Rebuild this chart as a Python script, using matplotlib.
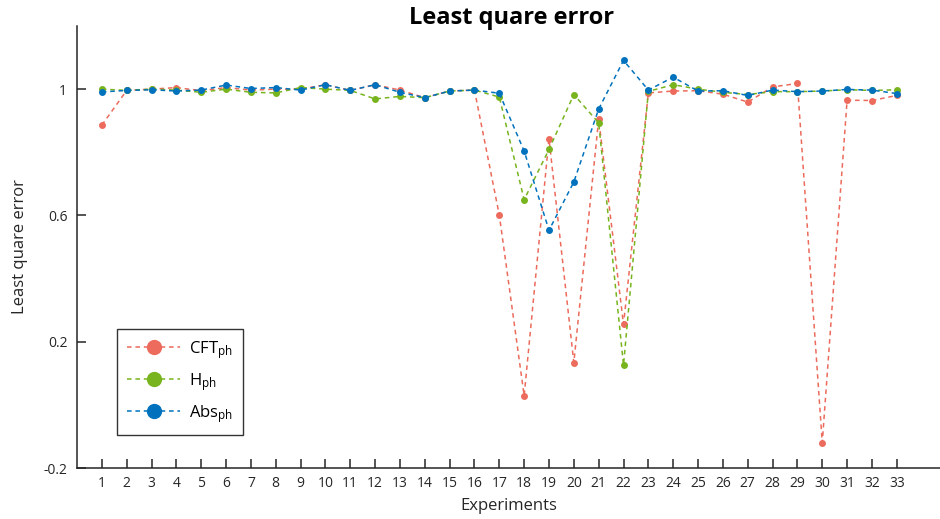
import matplotlib
matplotlib.use('Agg')
import matplotlib.pyplot as plt
import numpy as np

plt.rcParams['font.family'] = ['Open Sans', 'DejaVu Sans']
plt.rcParams['mathtext.fontset'] = 'custom'
plt.rcParams['mathtext.rm'] = 'Open Sans'
plt.rcParams['mathtext.it'] = 'Open Sans'

# least square error per experiment for each method
experiments = np.arange(1, 34)
cft_ph = [0.886, 0.996, 1.0, 1.005, 0.995, 1.005, 0.997, 1.0, 1.0, 1.014, 0.996,
          1.014, 0.997, 0.973, 0.994, 0.997, 0.601, 0.029, 0.843, 0.134, 0.905,
          0.255, 0.988, 0.994, 0.995, 0.984, 0.959, 1.007, 1.018, -0.12, 0.965,
          0.964, 0.98]
h_ph = [1.0, 0.996, 1.0, 0.997, 0.99, 1.0, 0.99, 0.988, 1.005, 1.0, 0.996,
        0.969, 0.977, 0.973, 0.994, 0.997, 0.975, 0.650, 0.809, 0.983, 0.893,
        0.126, 0.993, 1.014, 1.0, 0.99, 0.983, 0.992, 0.992, 0.994, 0.998,
        0.996, 0.998]
abs_ph = [0.991, 0.996, 0.998, 0.994, 0.997, 1.013, 1.002, 1.005, 0.997, 1.014,
          0.996, 1.014, 0.99, 0.973, 0.994, 0.997, 0.987, 0.804, 0.553, 0.706,
          0.937, 1.091, 0.997, 1.038, 0.994, 0.995, 0.98, 0.997, 0.992, 0.994,
          0.999, 0.997, 0.986]

labels = [r'CFT$_{\mathrm{ph}}$', r'H$_{\mathrm{ph}}$', r'Abs$_{\mathrm{ph}}$']
colors = ['#EC6B5C', '#77B41E', '#0072BD']
dark = '#262626'

fig = plt.figure(figsize=(9.4, 5.19), dpi=100)
ax = fig.add_axes([77/940, 51/519, 863/940, 442/519])

for vals, lab, col in zip([cft_ph, h_ph, abs_ph], labels, colors):
    ax.plot(experiments, vals, linestyle=(0, (3, 2.5)), linewidth=1.1, color=col,
            marker='o', markersize=5, markeredgewidth=0, label=lab)

ax.set_xlim(0, 34.74)
ax.set_ylim(-0.2, 1.2)
ax.set_xticks(experiments)
ax.set_yticks([-0.2, 0.2, 0.6, 1])
ax.set_yticklabels(['-0.2', '0.2', '0.6', '1'])

for side in ['top', 'right']:
    ax.spines[side].set_visible(False)
for side in ['left', 'bottom']:
    ax.spines[side].set_color(dark)
    ax.spines[side].set_linewidth(1.1)
ax.tick_params(direction='in', length=6.5, width=1.1, color=dark,
               labelcolor=dark, labelsize=10)
ax.tick_params(axis='y', pad=7)
ax.tick_params(axis='x', pad=6)

# title sits low, its baseline just under the top of the y axis
fig.text(512/940, 1 - 24/519, 'Least quare error', fontsize=17, fontweight='bold',
         color='black', ha='center', va='baseline')
ax.set_xlabel('Experiments', fontsize=12, color=dark, labelpad=5)
ax.set_ylabel('Least quare error', fontsize=12, color=dark, labelpad=11)

leg = ax.legend(loc='lower left', bbox_to_anchor=((117-77)/863, (468-435)/442),
                borderaxespad=0, fontsize=12, markerscale=2.2, handlelength=3.2,
                labelspacing=0.62, fancybox=False, framealpha=1, borderpad=0.6,
                handletextpad=0.5)
leg.get_frame().set_edgecolor('#333333')
leg.get_frame().set_linewidth(1.0)

fig.savefig('out.png', dpi=100)
